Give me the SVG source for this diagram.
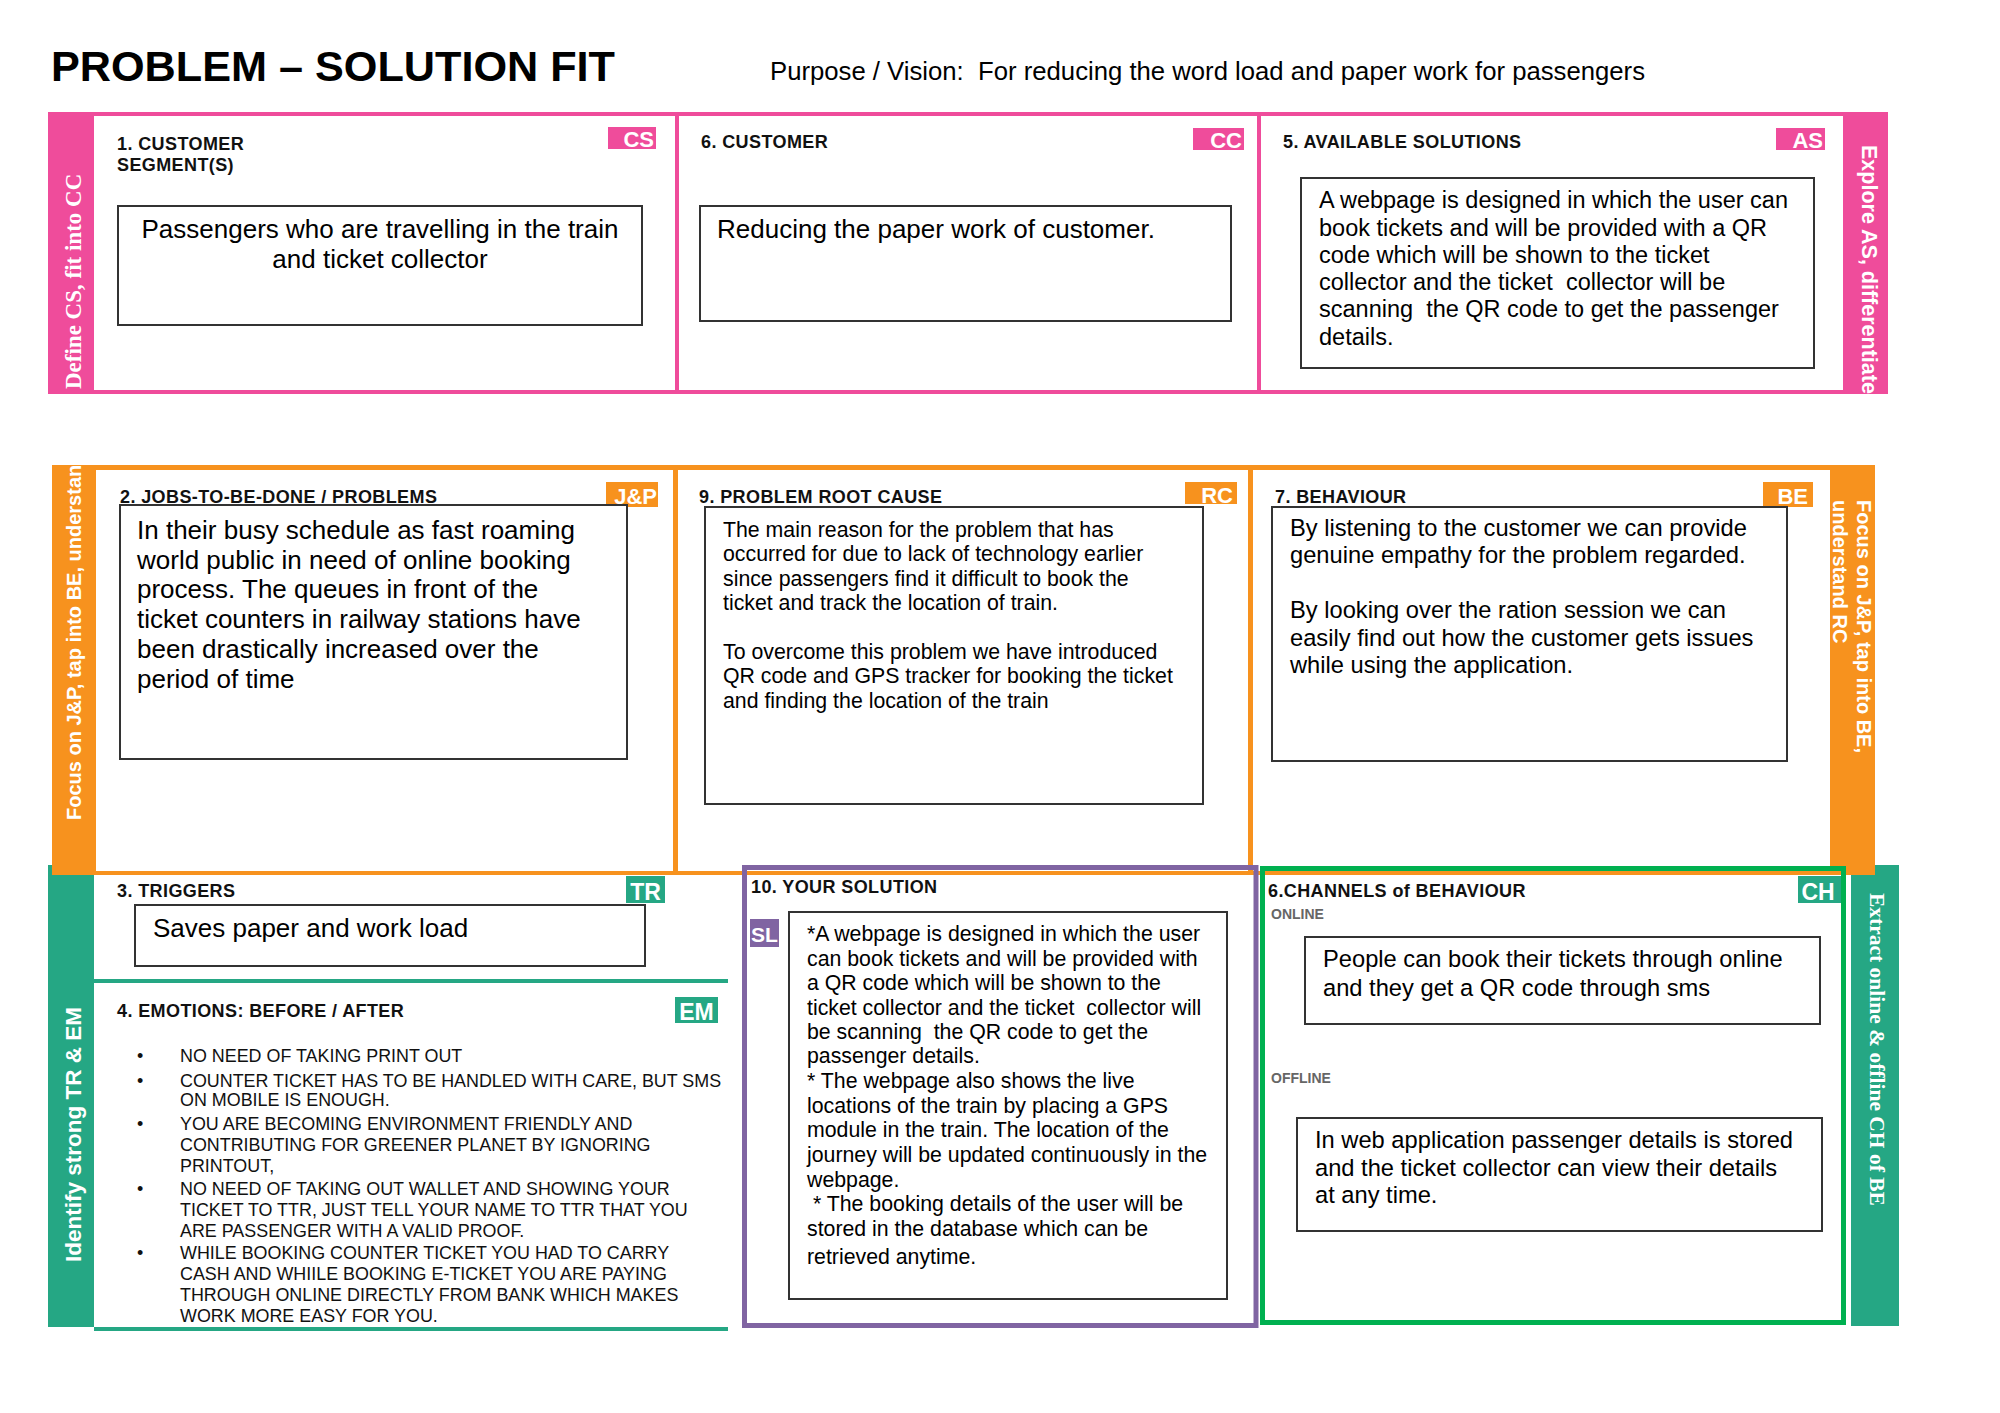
<svg xmlns="http://www.w3.org/2000/svg" width="2000" height="1413" viewBox="0 0 2000 1413" xml:space="preserve">
<style>
text{white-space:pre}
.h{font-family:'Liberation Sans',Arial,sans-serif;font-weight:bold;font-size:18px;letter-spacing:0.4px;fill:#111}
.t{font-family:'Liberation Sans',Arial,sans-serif;fill:#000}
.box{fill:#fff;stroke:#333;stroke-width:2}
.bw{font-family:'Liberation Sans',Arial,sans-serif;font-weight:bold;fill:#fff}
.bs{font-family:'Liberation Serif','Times New Roman',serif;font-weight:bold;fill:#fff}
.pk{fill:#EF4C9B}
.or{fill:#F7921E}
.tl{fill:#25A784}
.pu{fill:#8064A2}
.sub{font-family:'Liberation Sans',Arial,sans-serif;font-weight:bold;font-size:14px;fill:#666}
.em{font-family:'Liberation Sans',Arial,sans-serif;font-size:17.9px;fill:#111}
</style>
<defs>
<clipPath id="cpR"><rect x="1843" y="112" width="45" height="282"/></clipPath>
<clipPath id="cpOL"><rect x="52" y="465" width="44" height="410"/></clipPath>
<clipPath id="cpOR"><rect x="1830" y="465" width="45" height="410"/></clipPath>
</defs>
<rect width="2000" height="1413" fill="#fff"/>

<g id="title">
<text x="51" y="81" font-family="'Liberation Sans',Arial,sans-serif" font-weight="bold" font-size="43" textLength="564" lengthAdjust="spacingAndGlyphs">PROBLEM – SOLUTION FIT</text>
<text x="770" y="80" font-family="'Liberation Sans',Arial,sans-serif" font-size="26" textLength="875" lengthAdjust="spacingAndGlyphs">Purpose / Vision:  For reducing the word load and paper work for passengers</text>
</g>

<!-- green side bars (bottom row) -->
<g id="bar-green-left">
<rect class="tl" x="48" y="865" width="46" height="462"/>
<text class="bw" font-size="22.5" transform="translate(81,1262) rotate(-90)">Identify strong TR &amp; EM</text>
</g>
<g id="bar-green-right">
<rect class="tl" x="1851" y="865" width="48" height="461"/>
<text class="bs" font-size="21.5" transform="translate(1870,893) rotate(90)">Extract online &amp; offline CH of BE</text>
</g>

<!-- top row pink frame -->
<g id="frame-pink">
<rect class="pk" x="48" y="112" width="1840" height="282"/>
<rect fill="#fff" x="94" y="116" width="581" height="274"/>
<rect fill="#fff" x="679" y="116" width="578" height="274"/>
<rect fill="#fff" x="1261" y="116" width="582" height="274"/>
<text class="bs" font-size="23" transform="translate(81,389) rotate(-90)">Define CS, fit into CC</text>
<g clip-path="url(#cpR)"><text class="bw" font-size="21.5" transform="translate(1862,145) rotate(90)">Explore AS, differentiate</text></g>
</g>

<g id="node-cs">
<text class="h" x="117" y="150">1. CUSTOMER</text>
<text class="h" x="117" y="171">SEGMENT(S)</text>
<rect class="pk" x="608" y="127" width="48" height="22"/>
<text class="bw" font-size="22" x="654" y="147" text-anchor="end">CS</text>
<rect class="box" x="118" y="206" width="524" height="119"/>
<text class="t" font-size="26" text-anchor="middle"><tspan x="380" y="238">Passengers who are travelling in the train</tspan><tspan x="380" y="268">and ticket collector</tspan></text>
</g>

<g id="node-cc">
<text class="h" x="701" y="148">6. CUSTOMER</text>
<rect class="pk" x="1193" y="128" width="51" height="22"/>
<text class="bw" font-size="22" x="1242" y="148" text-anchor="end">CC</text>
<rect class="box" x="700" y="206" width="531" height="115"/>
<text class="t" font-size="26" x="717" y="238">Reducing the paper work of customer.</text>
</g>

<g id="node-as">
<text class="h" x="1283" y="148" letter-spacing="0.7">5. AVAILABLE SOLUTIONS</text>
<rect class="pk" x="1776" y="128" width="49" height="22"/>
<text class="bw" font-size="22" x="1823" y="148" text-anchor="end">AS</text>
<rect class="box" x="1301" y="178" width="513" height="190"/>
<text class="t" font-size="23.5"><tspan x="1319" y="208">A webpage is designed in which the user can</tspan><tspan x="1319" y="236">book tickets and will be provided with a QR</tspan><tspan x="1319" y="263">code which will be shown to the ticket</tspan><tspan x="1319" y="290">collector and the ticket  collector will be</tspan><tspan x="1319" y="317">scanning  the QR code to get the passenger</tspan><tspan x="1319" y="345">details.</tspan></text>
</g>

<!-- middle row orange frame -->
<g id="frame-orange">
<rect class="or" x="52" y="465" width="1823" height="410"/>
<rect fill="#fff" x="96" y="470" width="577" height="401"/>
<rect fill="#fff" x="678" y="470" width="570" height="401"/>
<rect fill="#fff" x="1253" y="470" width="577" height="401"/>
<g clip-path="url(#cpOL)"><text class="bw" font-size="20" transform="translate(81,820) rotate(-90)">Focus on J&amp;P, tap into BE, understand</text></g>
<g clip-path="url(#cpOR)">
<text class="bw" font-size="20" transform="translate(1857,500) rotate(90)">Focus on J&amp;P, tap into BE,</text>
<text class="bw" font-size="20" transform="translate(1833,500) rotate(90)">understand RC</text>
</g>
</g>

<g id="node-jp">
<text class="h" x="120" y="503">2. JOBS-TO-BE-DONE / PROBLEMS</text>
<rect class="or" x="606" y="482" width="52" height="25"/>
<text class="bw" font-size="22" x="657" y="504" text-anchor="end">J&amp;P</text>
<rect class="box" x="120" y="505" width="507" height="254"/>
<text class="t" font-size="26"><tspan x="137" y="539">In their busy schedule as fast roaming</tspan><tspan x="137" y="569">world public in need of online booking</tspan><tspan x="137" y="598">process. The queues in front of the</tspan><tspan x="137" y="628">ticket counters in railway stations have</tspan><tspan x="137" y="658">been drastically increased over the</tspan><tspan x="137" y="688">period of time</tspan></text>
</g>

<g id="node-rc">
<text class="h" x="699" y="503">9. PROBLEM ROOT CAUSE</text>
<rect class="or" x="1185" y="482" width="52" height="22"/>
<text class="bw" font-size="22" x="1233" y="503" text-anchor="end">RC</text>
<rect class="box" x="705" y="507" width="498" height="297"/>
<text class="t" font-size="21.3"><tspan x="723" y="537">The main reason for the problem that has</tspan><tspan x="723" y="561">occurred for due to lack of technology earlier</tspan><tspan x="723" y="586">since passengers find it difficult to book the</tspan><tspan x="723" y="610">ticket and track the location of train.</tspan><tspan x="723" y="659">To overcome this problem we have introduced</tspan><tspan x="723" y="683">QR code and GPS tracker for booking the ticket</tspan><tspan x="723" y="708">and finding the location of the train</tspan></text>
</g>

<g id="node-be">
<text class="h" x="1275" y="503">7. BEHAVIOUR</text>
<rect class="or" x="1763" y="482" width="50" height="25"/>
<text class="bw" font-size="22" x="1808" y="504" text-anchor="end">BE</text>
<rect class="box" x="1272" y="507" width="515" height="254"/>
<text class="t" font-size="23.7"><tspan x="1290" y="536">By listening to the customer we can provide</tspan><tspan x="1290" y="563">genuine empathy for the problem regarded.</tspan><tspan x="1290" y="618">By looking over the ration session we can</tspan><tspan x="1290" y="646">easily find out how the customer gets issues</tspan><tspan x="1290" y="673">while using the application.</tspan></text>
</g>

<!-- bottom row -->
<g id="node-tr">
<text class="h" x="117" y="897">3. TRIGGERS</text>
<rect class="tl" x="626" y="876" width="39" height="27"/>
<text class="bw" font-size="23" x="645.5" y="900" text-anchor="middle">TR</text>
<rect class="box" x="135" y="905" width="510" height="61"/>
<text class="t" font-size="26" x="153" y="937">Saves paper and work load</text>
<rect class="tl" x="94" y="979" width="634" height="4"/>
</g>

<g id="node-em">
<text class="h" x="117" y="1017">4. EMOTIONS: BEFORE / AFTER</text>
<rect class="tl" x="675" y="997" width="43" height="26"/>
<text class="bw" font-size="23" x="696.5" y="1020" text-anchor="middle">EM</text>
<g class="em">
<text x="137" y="1062">•</text><text x="180" y="1062">NO NEED OF TAKING PRINT OUT</text>
<text x="137" y="1087">•</text><text><tspan x="180" y="1087">COUNTER TICKET HAS TO BE HANDLED WITH CARE, BUT SMS</tspan><tspan x="180" y="1106">ON MOBILE IS ENOUGH.</tspan></text>
<text x="137" y="1130">•</text><text><tspan x="180" y="1130">YOU ARE BECOMING ENVIRONMENT FRIENDLY AND</tspan><tspan x="180" y="1151">CONTRIBUTING FOR GREENER PLANET BY IGNORING</tspan><tspan x="180" y="1172">PRINTOUT,</tspan></text>
<text x="137" y="1195">•</text><text><tspan x="180" y="1195">NO NEED OF TAKING OUT WALLET AND SHOWING YOUR</tspan><tspan x="180" y="1216">TICKET TO TTR, JUST TELL YOUR NAME TO TTR THAT YOU</tspan><tspan x="180" y="1237">ARE PASSENGER WITH A VALID PROOF.</tspan></text>
<text x="137" y="1259">•</text><text><tspan x="180" y="1259">WHILE BOOKING COUNTER TICKET YOU HAD TO CARRY</tspan><tspan x="180" y="1280">CASH AND WHIILE BOOKING E-TICKET YOU ARE PAYING</tspan><tspan x="180" y="1301">THROUGH ONLINE DIRECTLY FROM BANK WHICH MAKES</tspan><tspan x="180" y="1322">WORK MORE EASY FOR YOU.</tspan></text>
</g>
<rect class="tl" x="94" y="1327" width="634" height="4"/>
</g>

<g id="node-sl">
<rect x="744.5" y="867.5" width="511.5" height="458" fill="none" stroke="#8064A2" stroke-width="5"/>
<text class="h" x="751" y="893">10. YOUR SOLUTION</text>
<rect class="pu" x="750" y="919" width="29" height="28"/>
<text class="bw" font-size="21" x="764.5" y="942" text-anchor="middle">SL</text>
<rect class="box" x="789" y="912" width="438" height="387"/>
<text class="t" font-size="21.3"><tspan x="807" y="941">*A webpage is designed in which the user</tspan><tspan x="807" y="966">can book tickets and will be provided with</tspan><tspan x="807" y="990">a QR code which will be shown to the</tspan><tspan x="807" y="1015">ticket collector and the ticket  collector will</tspan><tspan x="807" y="1039">be scanning  the QR code to get the</tspan><tspan x="807" y="1063">passenger details.</tspan><tspan x="807" y="1088">* The webpage also shows the live</tspan><tspan x="807" y="1113">locations of the train by placing a GPS</tspan><tspan x="807" y="1137">module in the train. The location of the</tspan><tspan x="807" y="1162">journey will be updated continuously in the</tspan><tspan x="807" y="1187">webpage.</tspan><tspan x="807" y="1211"> * The booking details of the user will be</tspan><tspan x="807" y="1236">stored in the database which can be</tspan><tspan x="807" y="1264">retrieved anytime.</tspan></text>
</g>

<g id="node-ch">
<rect x="1262.5" y="868.5" width="581" height="454" fill="none" stroke="#00B050" stroke-width="5"/>
<text class="h" x="1268" y="897">6.CHANNELS of BEHAVIOUR</text>
<rect class="tl" x="1798" y="876" width="43" height="27"/>
<text class="bw" font-size="23" x="1818" y="900" text-anchor="middle">CH</text>
<text class="sub" x="1271" y="919">ONLINE</text>
<rect class="box" x="1305" y="937" width="515" height="87"/>
<text class="t" font-size="23.7"><tspan x="1323" y="967">People can book their tickets through online</tspan><tspan x="1323" y="996">and they get a QR code through sms</tspan></text>
<text class="sub" x="1271" y="1083">OFFLINE</text>
<rect class="box" x="1297" y="1118" width="525" height="113"/>
<text class="t" font-size="23.7"><tspan x="1315" y="1148">In web application passenger details is stored</tspan><tspan x="1315" y="1176">and the ticket collector can view their details</tspan><tspan x="1315" y="1203">at any time.</tspan></text>
</g>

<g id="connectors"></g>
</svg>
